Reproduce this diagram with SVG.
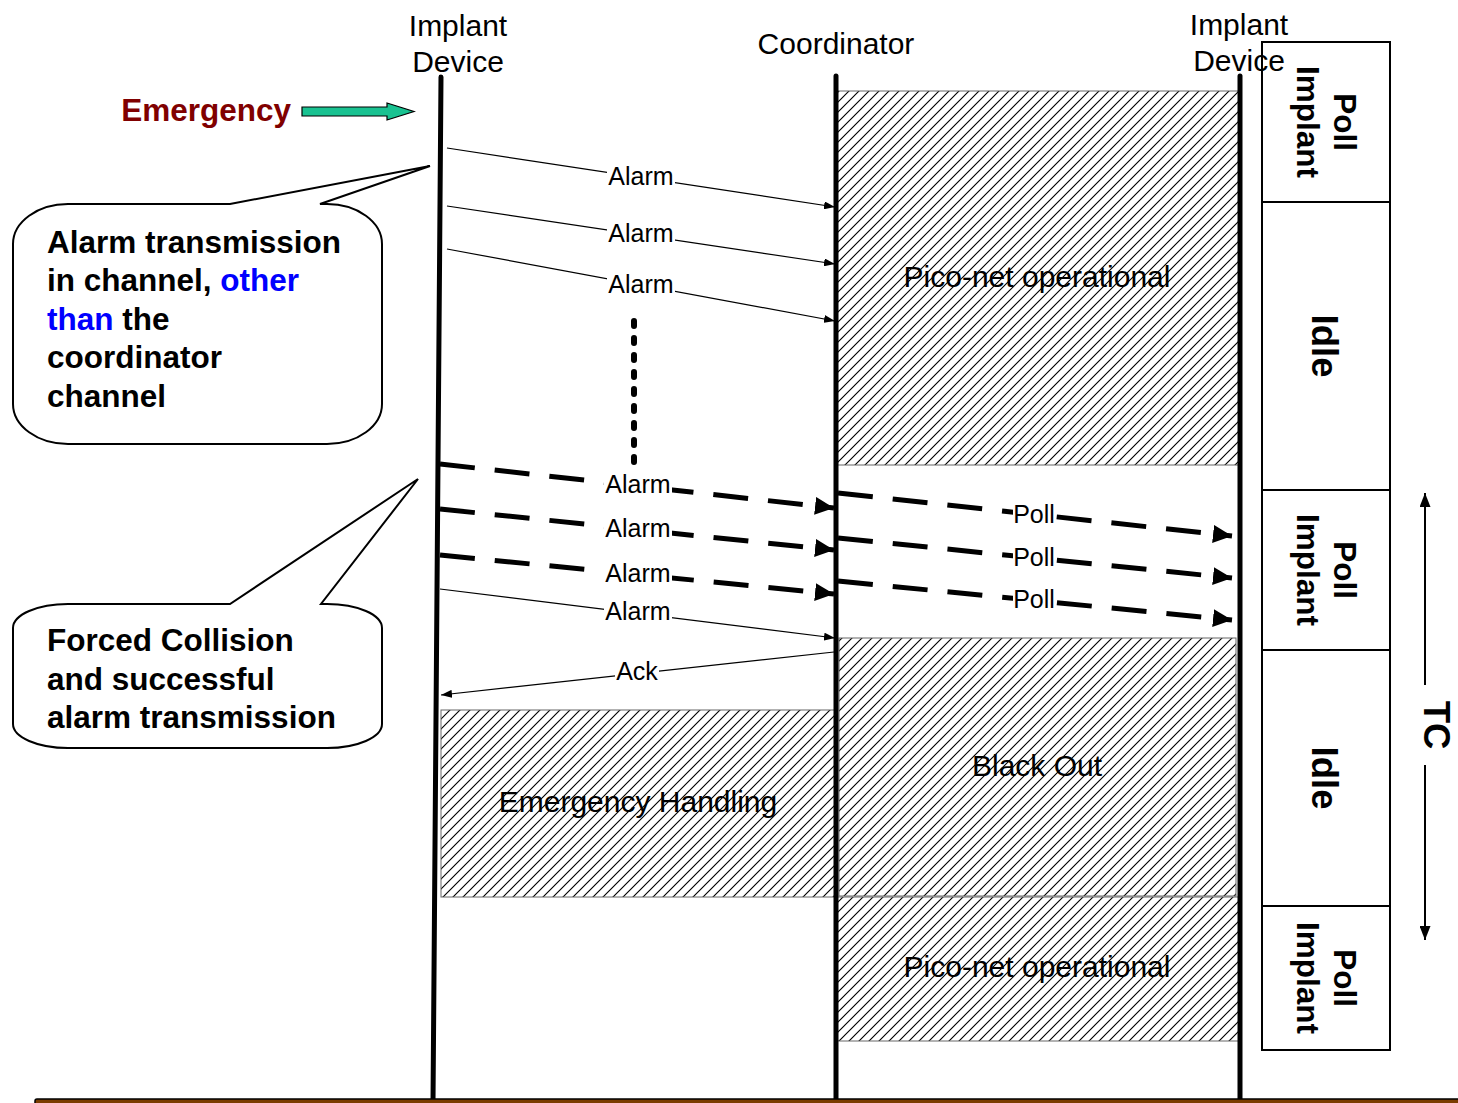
<svg xmlns="http://www.w3.org/2000/svg" width="1458" height="1103" viewBox="0 0 1458 1103">
<defs>
<pattern id="hatch" patternUnits="userSpaceOnUse" width="10" height="10">
<rect width="10" height="10" fill="#fff"/>
<path d="M-2,2 L2,-2 M0,10 L10,0 M8,12 L12,8" stroke="#000" stroke-width="1.15"/>
</pattern>
<marker id="ah" markerUnits="userSpaceOnUse" viewBox="0 0 11 8" refX="11" refY="4" markerWidth="11" markerHeight="8" orient="auto">
<path d="M0,0 L11,4 L0,8 z" fill="#000"/>
</marker>
<marker id="ahBig" markerUnits="userSpaceOnUse" viewBox="0 0 19 18" refX="19" refY="9" markerWidth="19" markerHeight="18" orient="auto">
<path d="M0,0 L19,9 L0,18 z" fill="#000"/>
</marker>
<marker id="ahTC" markerUnits="userSpaceOnUse" viewBox="0 0 14 11" refX="14" refY="5.5" markerWidth="14" markerHeight="11" orient="auto">
<path d="M0,0 L14,5.5 L0,11 z" fill="#000"/>
</marker>
</defs>
<style>
.hdr{font-family:"Liberation Sans",Arial,sans-serif;font-size:30px;fill:#000;text-anchor:middle}
.blk{font-family:"Liberation Sans",Arial,sans-serif;font-size:30px;fill:#000;text-anchor:middle}
.lbl{font-family:"Liberation Sans",Arial,sans-serif;font-size:25px;fill:#000;text-anchor:middle}
.bold{font-family:"Liberation Sans",Arial,sans-serif;font-size:31.5px;font-weight:bold;fill:#000;text-anchor:middle}
.big{font-family:"Liberation Sans",Arial,sans-serif;font-size:36.5px;font-weight:bold;fill:#000;text-anchor:middle}
.call{font-family:"Liberation Sans",Arial,sans-serif;font-size:31.5px;font-weight:bold;fill:#000}
.blue{fill:#0000ff}
.hatched{fill:url(#hatch);stroke:#666;stroke-width:1}
.life{stroke:#000;stroke-width:5;stroke-linecap:round;fill:none}
.thin{stroke:#000;stroke-width:1.2;fill:none;marker-end:url(#ah)}
.dash{stroke:#000;stroke-width:5;fill:none;stroke-dasharray:35 20;marker-end:url(#ahBig)}
.bg{fill:#fff}
.box{fill:#fff;stroke:#000;stroke-width:2}
.bubble{fill:#fff;stroke:#000;stroke-width:2}
</style>
<rect width="1458" height="1103" fill="#fff"/>

<g id="block-piconet-top">
<rect class="hatched" x="837" y="91" width="402" height="374"/>
<text class="blk" x="1037" y="287">Pico-net operational</text>
</g>
<g id="block-blackout">
<rect class="hatched" x="839" y="638" width="397" height="258"/>
<text class="blk" x="1037" y="776">Black Out</text>
</g>
<g id="block-piconet-bottom">
<rect class="hatched" x="837" y="897" width="402" height="144"/>
<text class="blk" x="1037" y="977">Pico-net operational</text>
</g>
<g id="block-emergency-handling">
<rect class="hatched" x="441" y="710" width="395" height="187"/>
<text class="blk" x="638" y="812">Emergency Handling</text>
</g>

<g id="slot-poll-1">
<rect class="box" x="1262" y="42" width="128" height="160"/>
<g transform="translate(1326,122) rotate(90)"><text class="bold" x="0" y="-8">Poll</text><text class="bold" x="0" y="29">Implant</text></g>
</g>
<g id="slot-idle-1">
<rect class="box" x="1262" y="202" width="128" height="288"/>
<g transform="translate(1325,346) rotate(90)"><text class="big" x="0" y="13">Idle</text></g>
</g>
<g id="slot-poll-2">
<rect class="box" x="1262" y="490" width="128" height="160"/>
<g transform="translate(1326,570) rotate(90)"><text class="bold" x="0" y="-8">Poll</text><text class="bold" x="0" y="29">Implant</text></g>
</g>
<g id="slot-idle-2">
<rect class="box" x="1262" y="650" width="128" height="256"/>
<g transform="translate(1325,778) rotate(90)"><text class="big" x="0" y="13">Idle</text></g>
</g>
<g id="slot-poll-3">
<rect class="box" x="1262" y="906" width="128" height="144"/>
<g transform="translate(1326,978) rotate(90)"><text class="bold" x="0" y="-8">Poll</text><text class="bold" x="0" y="29">Implant</text></g>
</g>

<g id="lifeline-implant-left">
<text class="hdr" x="458" y="36">Implant</text>
<text class="hdr" x="458" y="72">Device</text>
<line class="life" x1="441" y1="77" x2="433" y2="1103"/>
</g>
<g id="lifeline-coordinator">
<text class="hdr" x="836" y="54">Coordinator</text>
<line class="life" x1="836" y1="76" x2="836" y2="1103"/>
</g>
<g id="lifeline-implant-right">
<text class="hdr" x="1239" y="35">Implant</text>
<text class="hdr" x="1239" y="71">Device</text>
<line class="life" x1="1240" y1="76" x2="1240" y2="1103"/>
</g>

<g id="emergency">
<text x="291" y="121" font-family="Liberation Sans, Arial, sans-serif" font-size="31.5" font-weight="bold" fill="#800000" text-anchor="end">Emergency</text>
<path d="M302,107 L387,107 L387,103 L414,111.5 L387,120 L387,116 L302,116 z" fill="#19c291" stroke="#000" stroke-width="1.2"/>
</g>

<g id="callout-alarm-channel">
<path class="bubble" d="M68,204 L230,204 L430,166 L320,204 L327,204 A55,40 0 0 1 382,244 L382,404 A55,40 0 0 1 327,444 L68,444 A55,40 0 0 1 13,404 L13,244 A55,40 0 0 1 68,204 z"/>
<text class="call" x="47" y="253">Alarm transmission</text>
<text class="call" x="47" y="291">in channel, <tspan class="blue">other</tspan></text>
<text class="call" x="47" y="330"><tspan class="blue">than</tspan> the</text>
<text class="call" x="47" y="368">coordinator</text>
<text class="call" x="47" y="407">channel</text>
</g>

<g id="callout-forced-collision">
<path class="bubble" d="M68,604 L230,604 L418,479 L321,604 L327,604 A55,24 0 0 1 382,628 L382,724 A55,24 0 0 1 327,748 L68,748 A55,24 0 0 1 13,724 L13,628 A55,24 0 0 1 68,604 z"/>
<text class="call" x="47" y="651">Forced Collision</text>
<text class="call" x="47" y="690">and successful</text>
<text class="call" x="47" y="728">alarm transmission</text>
</g>

<g id="dots">
<line x1="634" y1="321" x2="634" y2="464" stroke="#000" stroke-width="6" stroke-linecap="round" stroke-dasharray="5 12"/>
</g>

<g id="connectors">
<line class="thin" x1="447" y1="148" x2="835" y2="207"/>
<rect class="bg" x="607" y="165" width="68" height="23"/>
<text class="lbl" x="641" y="185">Alarm</text>

<line class="thin" x1="447" y1="206" x2="835" y2="264"/>
<rect class="bg" x="607" y="222" width="68" height="23"/>
<text class="lbl" x="641" y="242">Alarm</text>

<line class="thin" x1="447" y1="249" x2="835" y2="321"/>
<rect class="bg" x="607" y="273" width="68" height="23"/>
<text class="lbl" x="641" y="293">Alarm</text>

<line class="dash" x1="440" y1="464" x2="834" y2="508"/>
<rect class="bg" x="604" y="473" width="68" height="23"/>
<text class="lbl" x="638" y="493">Alarm</text>

<line class="dash" x1="440" y1="509" x2="834" y2="550"/>
<rect class="bg" x="604" y="517" width="68" height="23"/>
<text class="lbl" x="638" y="537">Alarm</text>

<line class="dash" x1="440" y1="555" x2="834" y2="594"/>
<rect class="bg" x="604" y="562" width="68" height="23"/>
<text class="lbl" x="638" y="582">Alarm</text>

<line class="thin" x1="440" y1="589" x2="835" y2="638"/>
<rect class="bg" x="604" y="600" width="68" height="23"/>
<text class="lbl" x="638" y="620">Alarm</text>

<line class="thin" x1="834" y1="652" x2="441" y2="695"/>
<rect class="bg" x="615" y="660" width="44" height="23"/>
<text class="lbl" x="637" y="680">Ack</text>

<line class="dash" x1="838" y1="493" x2="1232" y2="536"/>
<rect class="bg" x="1013" y="503" width="42" height="23"/>
<text class="lbl" x="1034" y="523">Poll</text>

<line class="dash" x1="838" y1="538" x2="1232" y2="578"/>
<rect class="bg" x="1013" y="546" width="42" height="23"/>
<text class="lbl" x="1034" y="566">Poll</text>

<line class="dash" x1="838" y1="581" x2="1232" y2="620"/>
<rect class="bg" x="1013" y="588" width="42" height="23"/>
<text class="lbl" x="1034" y="608">Poll</text>
</g>

<g id="tc">
<line x1="1425" y1="685" x2="1425" y2="493" stroke="#000" stroke-width="2" marker-end="url(#ahTC)"/>
<line x1="1425" y1="765" x2="1425" y2="940" stroke="#000" stroke-width="2" marker-end="url(#ahTC)"/>
<g transform="translate(1437,725) rotate(90)"><text class="big" x="0" y="13">TC</text></g>
</g>

<g id="baseline">
<rect x="35" y="1099" width="1430" height="6" rx="2" fill="#7a3c00" stroke="#000" stroke-width="1.5"/>
</g>
</svg>
